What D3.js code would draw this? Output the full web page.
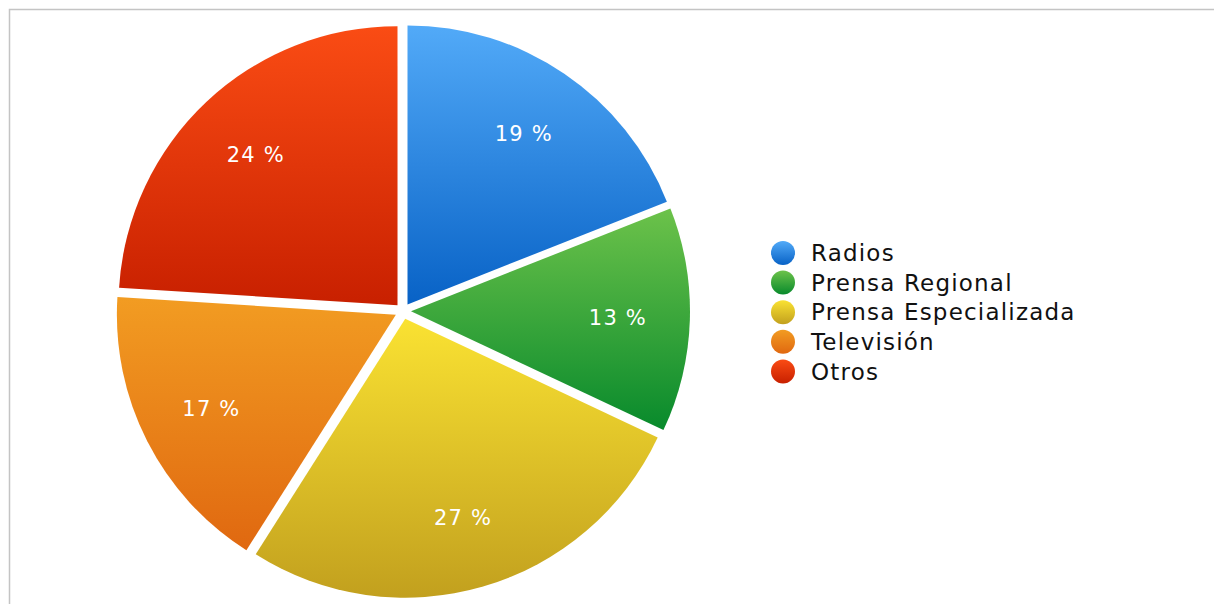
<!DOCTYPE html>
<html>
<head>
<meta charset="utf-8">
<script src="https://cdn.jsdelivr.net/npm/d3@7"></script>
<style>
  body { margin: 0; background: #fff; }
  svg { display: block; font-family: "DejaVu Sans", sans-serif; }
</style>
</head>
<body>
<svg id="viz"></svg>
<script>
// data
var categories = ['Radios', 'Prensa Regional', 'Prensa Especializada', 'Televisión', 'Otros'];
var values = [19, 13, 27, 17, 24];
var topColors = ['#52aaf8', '#6cc24a', '#fae232', '#f29c22', '#fa4c14'];
var bottomColors = ['#0862c6', '#088a2c', '#c2a01e', '#e06810', '#c82000'];

var width = 1214;
var height = 604;

var svg = d3.select('#viz')
            .attr('width', width)
            .attr('height', height);

// frame
svg.append('rect')
   .attr('x', 9.5).attr('y', 9.5)
   .attr('width', 1300).attr('height', 700)
   .attr('fill', 'none')
   .attr('stroke', '#c4c4c4')
   .attr('stroke-width', 1.5);

var defs = svg.append('defs');
categories.forEach(function(c, i){
    var grad = defs.append('linearGradient')
                   .attr('id', 'grad' + i)
                   .attr('x1', 0).attr('y1', 0)
                   .attr('x2', 0).attr('y2', 1);
    grad.append('stop').attr('offset', '0%').attr('stop-color', topColors[i]);
    grad.append('stop').attr('offset', '100%').attr('stop-color', bottomColors[i]);
});

var cx = 403, cy = 311, radius = 279, explode = 8;

var data = categories.map(function(c, i){ return {name: c, value: values[i], i: i}; });

var pie = d3.pie().sort(null).value(function(d){ return d.value; });
var arc = d3.arc().innerRadius(0).outerRadius(radius);
var labelArc = d3.arc().innerRadius(207).outerRadius(207);

var g = svg.append('g').attr('transform', 'translate(' + cx + ',' + cy + ')');

var slices = g.selectAll('g.slice')
    .data(pie(data))
    .enter()
    .append('g')
    .attr('class', 'slice')
    .attr('transform', function(d){
        var a = (d.startAngle + d.endAngle) / 2;
        return 'translate(' + (Math.sin(a) * explode) + ',' + (-Math.cos(a) * explode) + ')';
    });

slices.append('path')
      .attr('d', arc)
      .attr('fill', function(d){ return 'url(#grad' + d.data.i + ')'; });

slices.append('text')
      .attr('transform', function(d){ return 'translate(' + labelArc.centroid(d) + ')'; })
      .attr('text-anchor', 'middle')
      .attr('dy', '0.36em')
      .attr('fill', '#fff')
      .attr('font-size', 21)
      .attr('letter-spacing', 1.2)
      .text(function(d){ return d.data.value + ' %'; });

// legend
var legend = svg.append('g').attr('transform', 'translate(783, 253)');
var rows = legend.selectAll('g')
    .data(data)
    .enter()
    .append('g')
    .attr('transform', function(d, i){ return 'translate(0,' + (i * 29.6) + ')'; });

rows.append('circle')
    .attr('r', 12)
    .attr('fill', function(d){ return 'url(#grad' + d.i + ')'; });

rows.append('text')
    .attr('x', 28)
    .attr('dy', '0.36em')
    .attr('font-size', 23)
    .attr('letter-spacing', 1.2)
    .attr('fill', '#111')
    .text(function(d){ return d.name; });
</script>
</body>
</html>
